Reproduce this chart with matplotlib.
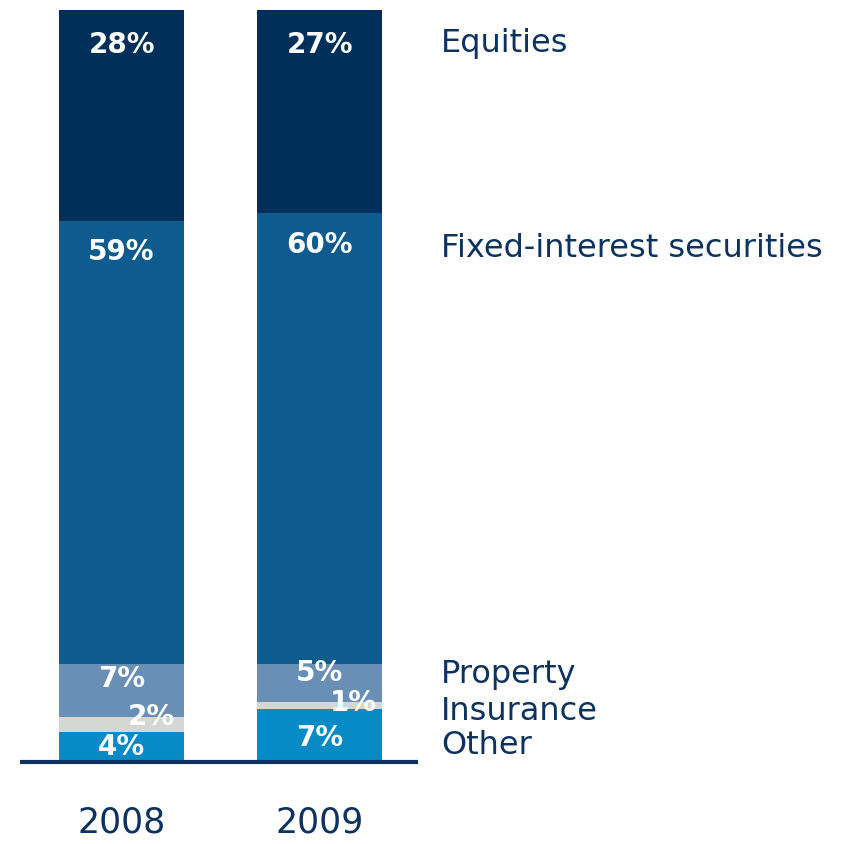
import numpy as np
import matplotlib.pyplot as plt

plt.rcParams['font.family'] = ['Liberation Sans Narrow', 'DejaVu Sans Condensed', 'DejaVu Sans']

# data (share of portfolio, %)
years = ['2008', '2009']
categories = ['Other', 'Insurance', 'Property', 'Fixed-interest securities', 'Equities']
other = [4, 7]
insurance = [2, 1]
prop = [7, 5]
fixed = [59, 60]
equities = [28, 27]
series = [other, insurance, prop, fixed, equities]

colors = ['#078bc7', '#d4d7d4', '#6a8fb6', '#0e5b8f', '#00305a']
navy = '#0c3260'

fig = plt.figure(figsize=(8.42, 8.44), dpi=100)
ax = fig.add_axes([0, 0, 1, 1])
x = np.arange(len(years))
w = 0.63

bottom = np.zeros(len(years))
# label placement tweaks (x shift in bar units, y drop below segment top)
lab_dx = [[0, 0], [0.15, 0.17], [0, 0], [0, 0], [0, 0]]
lab_dy = [[2.0, 3.8], [0.0, 0.2], [1.9, 1.2], [4.2, 4.3], [4.6, 4.6]]
for k, vals in enumerate(series):
    vals = np.array(vals, dtype=float)
    ax.bar(x, vals, w, bottom=bottom, color=colors[k], linewidth=0)
    for i in range(len(years)):
        top = bottom[i] + vals[i]
        ax.text(x[i] + lab_dx[k][i], top - lab_dy[k][i], f'{int(vals[i])}%',
                ha='center', va='center', color='white', fontsize=20,
                fontweight='semibold')
    bottom = bottom + vals

# baseline
ax.plot([-0.513, 1.497], [0, 0], color=navy, lw=3, solid_capstyle='butt')

# year labels
for i, yr in enumerate(years):
    ax.text(x[i], -8.1, yr, ha='center', va='center', color=navy, fontsize=25)

# series names on the right
name_y = [2.2, 6.7, 11.7, 68.3, 95.6]
for k, name in enumerate(categories):
    ax.text(1.615, name_y[k], name, ha='left', va='center', color=navy, fontsize=23)

ax.set_xlim(-0.614, 3.639)
ax.set_ylim(-10.9, 101.33)
ax.axis('off')

fig.savefig('out.png', dpi=100)
